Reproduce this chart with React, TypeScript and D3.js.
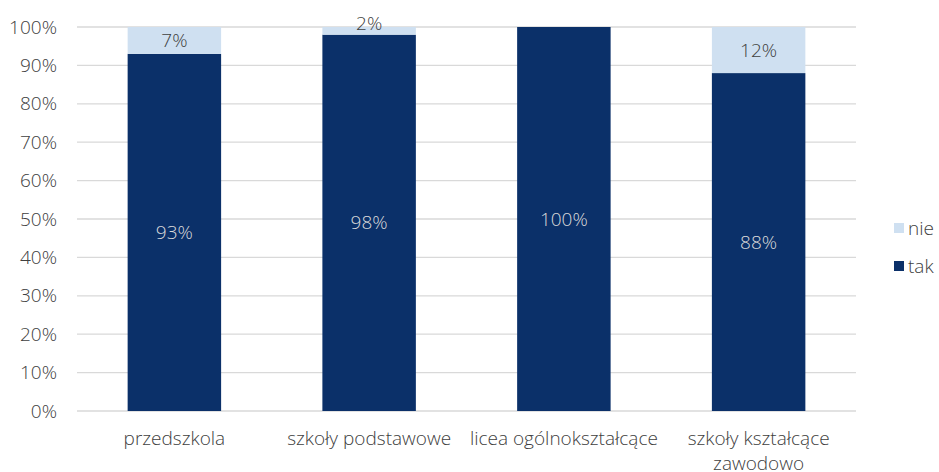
import React from "react";
import * as d3 from "d3";

const categories = ["przedszkola", "szkoły podstawowe", "licea ogólnokształcące", "szkoły kształcące zawodowo"];
const takValues = [93, 98, 100, 88];
const nieValues = [7, 2, 0, 12];
const yTicks = [0, 10, 20, 30, 40, 50, 60, 70, 80, 90, 100];
const seriesNames = ["nie", "tak"];

const W = 939, H = 472;
const DARK = "#0b3069";
const LIGHT = "#cfe0f1";
const FONT = "'Open Sans', sans-serif";
const FS = 19;

export default function App() {
  const x = d3.scaleBand<string>().domain(categories).range([77, 856]).paddingInner(0.52).paddingOuter(0.26);
  const y = d3.scaleLinear().domain([0, 100]).range([411, 27]);
  const catLines: Record<string, string[]> = {
    "szkoły kształcące zawodowo": ["szkoły kształcące", "zawodowo"],
  };
  return (
    <svg width={W} height={H} style={{ position: "absolute", left: 0, top: 0, background: "#fff" }} fontFamily={FONT}>
      {yTicks.map((t) => (
        <g key={t}>
          <line x1={77} x2={856} y1={y(t)} y2={y(t)} stroke="#d9d9d9" strokeWidth={1.3} />
          <text x={57} y={y(t)} dy="0.35em" textAnchor="end" fontSize={FS} fill="#404040" fontWeight={300}>
            {t}%
          </text>
        </g>
      ))}
      {categories.map((c, i) => {
        const bx = x(c)!;
        const bw = x.bandwidth();
        const cx = bx + bw / 2;
        const tak = takValues[i];
        const nie = nieValues[i];
        const nieY = Math.min(y(tak + nie / 2), y(tak) - 11);
        return (
          <g key={c}>
            <rect x={bx} y={y(tak)} width={bw} height={y(0) - y(tak)} fill={DARK} />
            {nie > 0 && <rect x={bx} y={y(tak + nie)} width={bw} height={y(tak) - y(tak + nie)} fill={LIGHT} />}
            <text x={cx} y={y(tak / 2)} dy="0.35em" textAnchor="middle" fontSize={FS} fill="#d9d9d9" fontWeight={300}>
              {tak}%
            </text>
            {nie > 0 && (
              <text x={cx} y={nieY} dy="0.35em" textAnchor="middle" fontSize={FS} fill="#404040" fontWeight={300}>
                {nie}%
              </text>
            )}
            {(catLines[c] || [c]).map((line, j) => (
              <text key={j} x={cx} y={445 + j * 25} textAnchor="middle" fontSize={FS} fill="#404040" fontWeight={300}>
                {line}
              </text>
            ))}
          </g>
        );
      })}
      {seriesNames.map((s, i) => (
        <g key={s} transform={`translate(894, ${223 + i * 38})`}>
          <rect x={0} y={0} width={10} height={10} fill={s === "nie" ? LIGHT : DARK} />
          <text x={14} y={5} dy="0.35em" fontSize={FS} fill="#404040" fontWeight={300}>
            {s}
          </text>
        </g>
      ))}
    </svg>
  );
}
